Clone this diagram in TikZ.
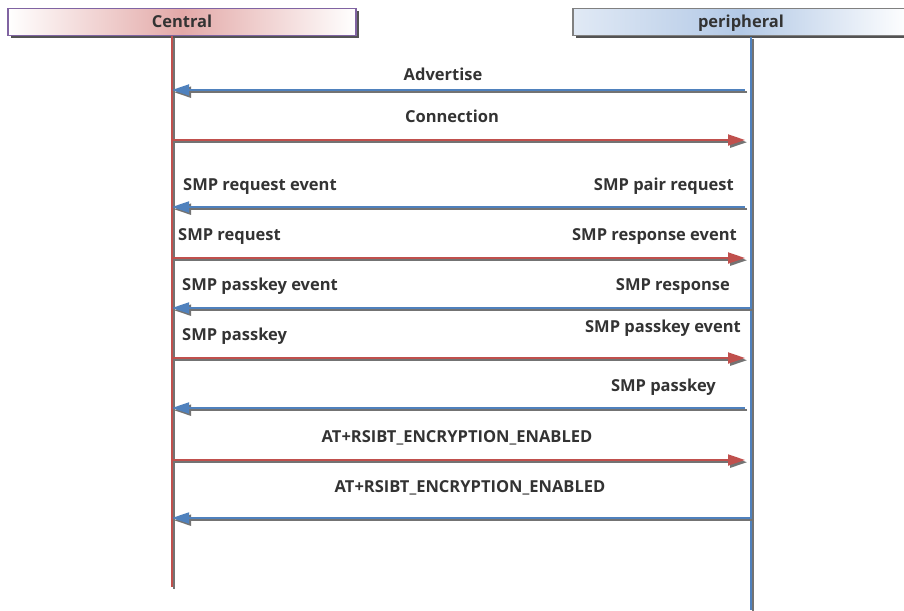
\documentclass[tikz,border=0pt]{standalone}
\usepackage{fontspec}
\setmainfont{Open Sans}
\usetikzlibrary{arrows.meta,shadows}
\definecolor{msgred}{HTML}{C0504D}
\definecolor{msgblue}{HTML}{4F81BD}
\definecolor{hdrpurple}{HTML}{8064A2}
\definecolor{hdrpink}{HTML}{E3A9A8}
\definecolor{hdrblue}{HTML}{B3C9E6}
\definecolor{txt}{HTML}{333333}
% a line drawn with a grey shadow below and to the right
\newcommand\shadedline[3]{%
  \draw[#3, draw=black!55, fill=black!70] ([shift={(2,2.2)}]#1) -- ([shift={(2,2.2)}]#2);
  \draw[#3] (#1) -- (#2);}
\begin{document}
\begin{tikzpicture}[x=1pt,y=-1pt,
  font=\fontsize{16.5}{19}\selectfont\bfseries, text=txt,
  hdr/.style={minimum height=27pt, inner sep=0pt, line width=1.2pt,
    drop shadow={shadow xshift=3pt, shadow yshift=-3pt, fill=black!75, opacity=0.9}},
  lifeline/.style={line width=2pt},
  msg/.style={line width=1.8pt, -{Triangle[length=17pt,width=11pt]}},
  lbl/.style={inner sep=0pt, yshift=-3pt}]
\useasboundingbox (0,0) rectangle (904,610);

% header boxes
\node[hdr, draw=hdrpurple, minimum width=348pt,
  left color=white, right color=white, middle color=hdrpink] (central) at (182,22) {};
\node[hdr, draw=black!50, minimum width=336pt,
  left color=white!60!hdrblue, right color=white, middle color=hdrblue] (periph) at (741,22) {};
\node[lbl, anchor=mid] (ctitle) at (central) {Central};
\node[lbl, anchor=mid] (ptitle) at (periph) {peripheral};

% lifelines
\coordinate (ctop) at (172,36);  \coordinate (cbot) at (172,587);
\coordinate (ptop) at (751,37);  \coordinate (pbot) at (751,610);
\shadedline{ctop}{cbot}{lifeline, msgred}
\shadedline{ptop}{pbot}{lifeline, msgblue}

% message end points on each lifeline
\foreach \n/\y in {1/90,2/140,3/207,4/258,5/308,6/358,7/408,8/460,9/518}{
  \coordinate (c\n) at (172,\y);
  \coordinate (p\n) at (745,\y);
}
\coordinate (p5) at (751,308);
\coordinate (p9) at (751,518);

% messages
\shadedline{p1}{c1}{msg, msgblue}
\shadedline{c2}{p2}{msg, msgred}
\shadedline{p3}{c3}{msg, msgblue}
\shadedline{c4}{p4}{msg, msgred}
\shadedline{p5}{c5}{msg, msgblue}
\shadedline{c6}{p6}{msg, msgred}
\shadedline{p7}{c7}{msg, msgblue}
\shadedline{c8}{p8}{msg, msgred}
\shadedline{p9}{c9}{msg, msgblue}

% message labels
\node[lbl, anchor=mid] (l1) at (443,75) {Advertise};
\node[lbl, anchor=mid] (l2) at (452,117) {Connection};
\node[lbl, anchor=mid west] (l3a) at (183,185) {SMP request event};
\node[lbl, anchor=mid east] (l3b) at (734,185) {SMP pair request};
\node[lbl, anchor=mid west] (l4a) at (178,235) {SMP request};
\node[lbl, anchor=mid east] (l4b) at (737,235) {SMP response event};
\node[lbl, anchor=mid west] (l5a) at (182,285) {SMP passkey event};
\node[lbl, anchor=mid east] (l5b) at (730,285) {SMP response};
\node[lbl, anchor=mid east] (l6b) at (741,327) {SMP passkey event};
\node[lbl, anchor=mid west] (l6a) at (182,335) {SMP passkey};
\node[lbl, anchor=mid east] (l7b) at (716,386) {SMP passkey};
\node[lbl, anchor=mid] (l8) at (457,437) {AT+RSIBT\_ENCRYPTION\_ENABLED};
\node[lbl, anchor=mid] (l9) at (470,487) {AT+RSIBT\_ENCRYPTION\_ENABLED};
\end{tikzpicture}
\end{document}
